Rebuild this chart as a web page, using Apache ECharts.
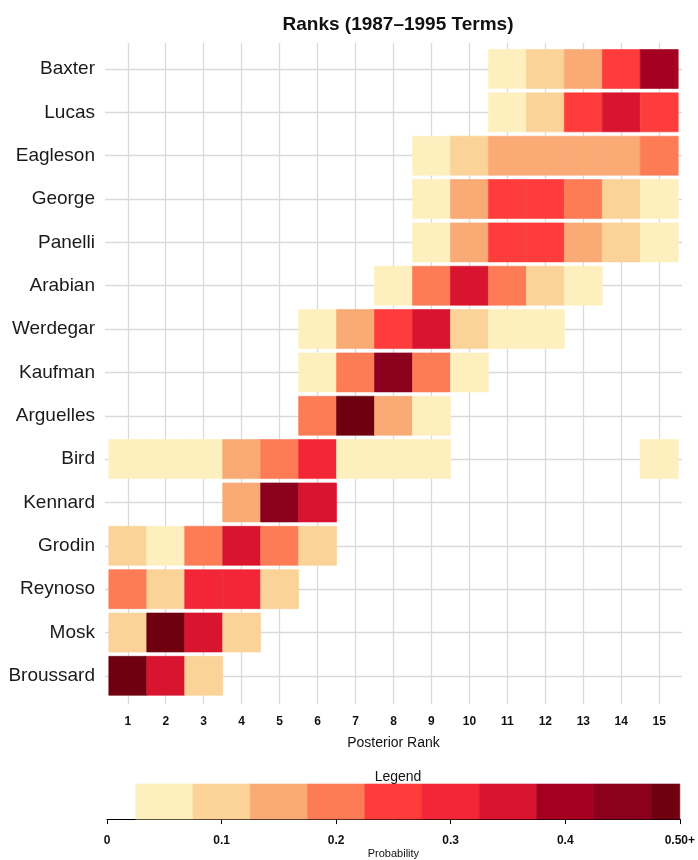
<!DOCTYPE html>
<html>
<head>
<meta charset="utf-8">
<script src="https://cdn.jsdelivr.net/npm/echarts@6/dist/echarts.min.js"></script>
<style>
  html, body { margin: 0; padding: 0; background: #ffffff; }
  #chart { width: 698px; height: 860px; }
</style>
</head>
<body>
<div id="chart"></div>
<script>
// Justices, top to bottom
const judges = ['Baxter', 'Lucas', 'Eagleson', 'George', 'Panelli', 'Arabian', 'Werdegar',
  'Kaufman', 'Arguelles', 'Bird', 'Kennard', 'Grodin', 'Reynoso', 'Mosk', 'Broussard'];
const ranks = [1, 2, 3, 4, 5, 6, 7, 8, 9, 10, 11, 12, 13, 14, 15];

// Posterior probability of each rank: [rank, probability]
const baxter    = [[11, 0.05], [12, 0.10], [13, 0.15], [14, 0.25], [15, 0.40]];
const lucas     = [[11, 0.05], [12, 0.10], [13, 0.25], [14, 0.35], [15, 0.25]];
const eagleson  = [[9, 0.05], [10, 0.10], [11, 0.15], [12, 0.15], [13, 0.15], [14, 0.15], [15, 0.20]];
const george    = [[9, 0.05], [10, 0.15], [11, 0.25], [12, 0.25], [13, 0.20], [14, 0.10], [15, 0.05]];
const panelli   = [[9, 0.05], [10, 0.15], [11, 0.25], [12, 0.25], [13, 0.15], [14, 0.10], [15, 0.05]];
const arabian   = [[8, 0.05], [9, 0.20], [10, 0.35], [11, 0.20], [12, 0.10], [13, 0.05]];
const werdegar  = [[6, 0.05], [7, 0.15], [8, 0.25], [9, 0.35], [10, 0.10], [11, 0.05], [12, 0.05]];
const kaufman   = [[6, 0.05], [7, 0.20], [8, 0.45], [9, 0.20], [10, 0.05]];
const arguelles = [[6, 0.20], [7, 0.50], [8, 0.15], [9, 0.05]];
const bird      = [[1, 0.05], [2, 0.05], [3, 0.05], [4, 0.15], [5, 0.20], [6, 0.30], [7, 0.05], [8, 0.05], [9, 0.05], [15, 0.05]];
const kennard   = [[4, 0.15], [5, 0.45], [6, 0.35]];
const grodin    = [[1, 0.10], [2, 0.05], [3, 0.20], [4, 0.35], [5, 0.20], [6, 0.10]];
const reynoso   = [[1, 0.20], [2, 0.10], [3, 0.30], [4, 0.30], [5, 0.10]];
const mosk      = [[1, 0.10], [2, 0.50], [3, 0.35], [4, 0.10]];
const broussard = [[1, 0.50], [2, 0.35], [3, 0.10]];

const judgeRanks = [baxter, lucas, eagleson, george, panelli, arabian, werdegar,
  kaufman, arguelles, bird, kennard, grodin, reynoso, mosk, broussard];

// Colour classes for the probability scale
const probBreaks = [0.025, 0.075, 0.125, 0.175, 0.225, 0.275, 0.325, 0.375, 0.425, 0.475, 0.5];
const binColors = ['#fef0be', '#fbd297', '#faaa74', '#fd7b55', '#fe3c3b',
  '#f22636', '#d9142e', '#a50022', '#8a001d', '#6e0010'];
const legendTicks = [0, 0.1, 0.2, 0.3, 0.4, 0.5];

function colorFor(p) {
  for (let i = binColors.length - 1; i >= 0; i--) {
    if (p >= probBreaks[i]) return binColors[i];
  }
  return binColors[0];
}

// Cells: [rank, row, probability]
const cells = [];
judgeRanks.forEach((list, i) => {
  list.forEach(([r, p]) => cells.push([r, i + 1, p]));
});

// Legend segments: [from, to, colour index]
const legendSegments = binColors.map((c, i) => [probBreaks[i], probBreaks[i + 1], i]);

const plainFont = 'Liberation Sans, Arial, sans-serif';

const chart = echarts.init(document.getElementById('chart'), null, { renderer: 'canvas' });

chart.setOption({
  animation: false,
  backgroundColor: '#ffffff',
  title: [
    {
      text: 'Ranks (1987\u20131995 Terms)',
      left: 393, top: 10, textAlign: 'center',
      textStyle: { fontFamily: plainFont, fontSize: 19, fontWeight: 'bold', color: '#111' }
    },
    {
      text: 'Legend',
      left: 393, top: 765, textAlign: 'center',
      textStyle: { fontFamily: plainFont, fontSize: 14, fontWeight: 'normal', color: '#111' }
    }
  ],
  grid: [
    { left: 105, right: 16, top: 43, bottom: 156 },
    { left: 107, width: 573, top: 784, height: 51 }
  ],
  xAxis: [
    {
      type: 'value', gridIndex: 0, min: 0.4, max: 15.6,
      axisLine: { show: false },
      axisTick: { show: false, customValues: ranks },
      axisLabel: {
        customValues: ranks, margin: 12,
        fontFamily: plainFont, fontSize: 12, fontWeight: 'bold', color: '#111'
      },
      splitLine: { show: true, lineStyle: { color: '#dadada', width: 1.3 } },
      name: 'Posterior Rank', nameLocation: 'middle', nameGap: 32,
      nameTextStyle: { fontFamily: plainFont, fontSize: 14, color: '#111' }
    },
    {
      type: 'value', gridIndex: 1, min: 0, max: 0.5, interval: 0.1,
      axisLine: { show: true, lineStyle: { color: '#000', width: 1 } },
      axisTick: { show: true, length: 5, inside: false, lineStyle: { color: '#000', width: 1 } },
      axisLabel: {
        margin: 16,
        fontFamily: plainFont, fontSize: 12, fontWeight: 'bold', color: '#111',
        formatter: v => (v >= 0.5 ? '0.50+' : String(Math.round(v * 10) / 10)),
        alignMinLabel: 'center', alignMaxLabel: 'center'
      },
      splitLine: { show: false },
      name: 'Probability', nameLocation: 'middle', nameGap: 25,
      nameTextStyle: { fontFamily: plainFont, fontSize: 11, color: '#111' }
    }
  ],
  yAxis: [
    {
      type: 'value', gridIndex: 0, min: 0.4, max: 15.65, inverse: true,
      axisLine: { show: false },
      axisTick: { show: false, customValues: ranks },
      axisLabel: {
        customValues: ranks, margin: 10,
        formatter: v => judges[v - 1] || '',
        fontFamily: plainFont, fontSize: 19, color: '#1a1a1a'
      },
      splitLine: { show: true, lineStyle: { color: '#dadada', width: 1.3 } }
    },
    {
      type: 'value', gridIndex: 1, min: 0, max: 1,
      show: false
    }
  ],
  series: [
    {
      type: 'custom',
      xAxisIndex: 0, yAxisIndex: 0,
      data: cells,
      renderItem: (params, api) => {
        const r = api.value(0), row = api.value(1), p = api.value(2);
        const a = api.coord([r - 0.5, row - 0.45]);
        const b = api.coord([r + 0.5, row + 0.45]);
        const c = colorFor(p);
        return {
          type: 'rect',
          shape: {
            x: Math.min(a[0], b[0]), y: Math.min(a[1], b[1]),
            width: Math.abs(b[0] - a[0]), height: Math.abs(b[1] - a[1])
          },
          style: { fill: c, stroke: c, lineWidth: 0.6 }
        };
      }
    },
    {
      type: 'custom',
      xAxisIndex: 1, yAxisIndex: 1,
      data: legendSegments,
      renderItem: (params, api) => {
        const a = api.coord([api.value(0), 1]);
        const b = api.coord([api.value(1), 0]);
        const c = binColors[api.value(2)];
        return {
          type: 'rect',
          shape: { x: a[0], y: a[1], width: b[0] - a[0], height: b[1] - a[1] },
          style: { fill: c, stroke: c, lineWidth: 0.6 }
        };
      }
    }
  ]
});
</script>
</body>
</html>
